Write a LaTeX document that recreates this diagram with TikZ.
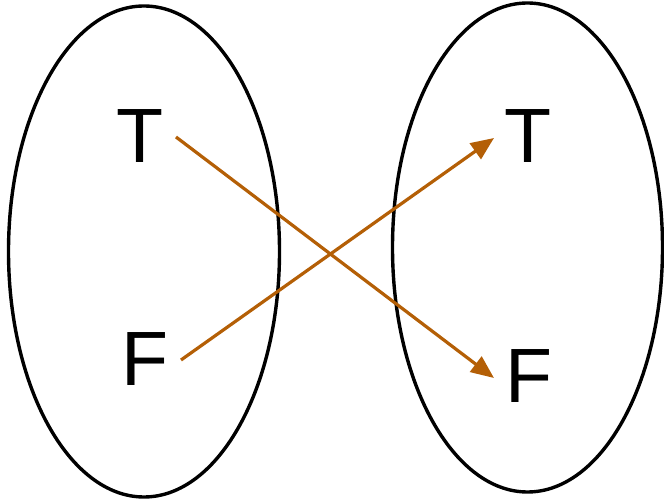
\documentclass[tikz,border=0pt]{standalone}
\usepackage{fontspec}
\setmainfont{Liberation Sans}
\usetikzlibrary{arrows.meta}
\definecolor{arrowc}{RGB}{180,95,6}
\tikzset{
  setoval/.style={draw=black, line width=3.4pt},
  lbl/.style={inner sep=0pt, font=\fontsize{77}{80}\selectfont},
  mapto/.style={draw=arrowc, line width=3.2pt, -{Triangle[length=23pt,width=19pt]}}
}
\begin{document}
\begin{tikzpicture}[x=1pt,y=1pt]
\useasboundingbox (0,0) rectangle (664,503);
\draw[setoval] (144,251.5) ellipse [x radius=135.5, y radius=245.5];
\draw[setoval] (527.5,255.5) ellipse [x radius=135, y radius=244.5];
\node[lbl] (lt) at (140,367) {T};
\node[lbl] (lf) at (145,144) {F};
\node[lbl] (rt) at (528,367) {T};
\node[lbl] (rf) at (529,127) {F};
\coordinate (ltout) at (176,366);
\coordinate (lfout) at (181,143);
\coordinate (rtin) at (494,365);
\coordinate (rfin) at (494,125);
\draw[mapto] (ltout) -- (rfin);
\draw[mapto] (lfout) -- (rtin);
\end{tikzpicture}
\end{document}
